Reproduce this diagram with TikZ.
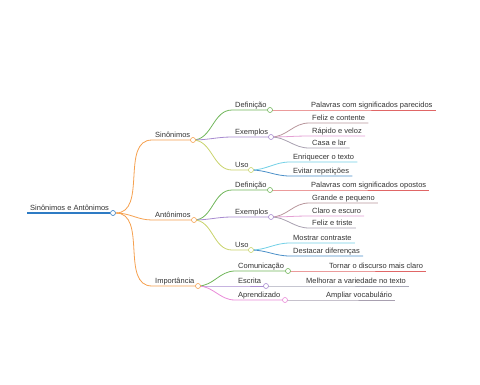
\documentclass[tikz,border=0pt]{standalone}
\usepackage{xcolor}
\usepackage{fontspec}
\setmainfont{Liberation Sans}
\usetikzlibrary{positioning}

\definecolor{txt}{HTML}{333333}
\definecolor{rootblue}{HTML}{2E7BC4}
\definecolor{orng}{HTML}{F5A04E}
\definecolor{grn}{HTML}{70B65A}
\definecolor{purp}{HTML}{A88BD0}
\definecolor{ylw}{HTML}{C9D36B}
\definecolor{redl}{HTML}{E06666}
\definecolor{mauve}{HTML}{B8969C}
\definecolor{pinkl}{HTML}{E4A0D4}
\definecolor{grayp}{HTML}{A8A0B0}
\definecolor{cyanl}{HTML}{72D0E6}
\definecolor{bluel}{HTML}{4A8FC8}
\definecolor{pinkd}{HTML}{E98AD8}
\definecolor{grayl}{HTML}{A8A8B8}

\begin{document}
\begin{tikzpicture}[x=1pt, y=-1pt,
  lbl/.style={font=\fontsize{7.5}{9}\selectfont, text=txt, inner xsep=3pt, inner ysep=0.5pt,
    text height=5.5pt, text depth=1.8pt, anchor=south west},
  dot/.style={circle, draw=#1, fill=white, line width=0.6pt, minimum size=5pt, inner sep=0pt},
  branch/.style={draw=#1, line width=0.8pt}]
\useasboundingbox (0,0) rectangle (480,384);

% Root
\node[lbl] (root) at (27,213) {Sinônimos e Antônimos};
\node[dot=rootblue] (rootc) at (113,213) {};

% Level 1
\node[lbl] (sin) at (152,140) {Sinônimos};
\node[lbl] (ant) at (152,220) {Antônimos};
\node[lbl] (imp) at (152,286) {Importância};

% Sinônimos children
\node[lbl] (sdef) at (232,110) {Definição};
\node[lbl] (sex) at (232,137) {Exemplos};
\node[lbl] (suso) at (232,170) {Uso};

% Antônimos children
\node[lbl] (adef) at (232,190) {Definição};
\node[lbl] (aex) at (232,217) {Exemplos};
\node[lbl] (auso) at (232,250) {Uso};

% Importância children
\node[lbl] (icom) at (235,271) {Comunicação};
\node[lbl] (iesc) at (235,286) {Escrita};
\node[lbl] (iapr) at (235,300) {Aprendizado};

% Leaves
\node[lbl] (sdef1) at (308,110) {Palavras com significados parecidos};
\node[lbl] (sex1) at (309,123) {Feliz e contente};
\node[lbl] (sex2) at (309,136) {Rápido e veloz};
\node[lbl] (sex3) at (309,148) {Casa e lar};
\node[lbl] (suso1) at (290,162) {Enriquecer o texto};
\node[lbl] (suso2) at (290,176) {Evitar repetições};
\node[lbl] (adef1) at (308,190) {Palavras com significados opostos};
\node[lbl] (aex1) at (309,203) {Grande e pequeno};
\node[lbl] (aex2) at (309,216) {Claro e escuro};
\node[lbl] (aex3) at (309,228) {Feliz e triste};
\node[lbl] (auso1) at (290,243) {Mostrar contraste};
\node[lbl] (auso2) at (290,256) {Destacar diferenças};
\node[lbl] (icom1) at (326,271) {Tornar o discurso mais claro};
\node[lbl] (iesc1) at (303,286) {Melhorar a variedade no texto};
\node[lbl] (iapr1) at (323,300) {Ampliar vocabulário};

% Root line
\draw[rootblue, line width=1.1pt] (root.south west) -- (rootc.west);

% Level 1 branches
\coordinate (sinc) at (193,140);
\coordinate (antc) at (194,220);
\coordinate (impc) at (198,286);
\draw[branch=orng] (rootc.east) to[out=0,in=180] (sin.south west) -- (sinc);
\draw[branch=orng] (rootc.east) to[out=0,in=180] (ant.south west) -- (antc);
\draw[branch=orng] (rootc.east) to[out=0,in=180] (imp.south west) -- (impc);

% Level 2 branches
\coordinate (sdefc) at (270,110);
\coordinate (sexc) at (271,137);
\coordinate (susoc) at (251,170);
\coordinate (adefc) at (270,190);
\coordinate (aexc) at (271,217);
\coordinate (ausoc) at (251,250);
\coordinate (icomc) at (288,271);
\coordinate (iescc) at (266,286);
\coordinate (iaprc) at (285,300);
\draw[branch=grn] (sinc) to[out=0,in=180] (sdef.south west) -- (sdefc);
\draw[branch=purp] (sinc) to[out=0,in=180] (sex.south west) -- (sexc);
\draw[branch=ylw] (sinc) to[out=0,in=180] (suso.south west) -- (susoc);
\draw[branch=grn] (antc) to[out=0,in=180] (adef.south west) -- (adefc);
\draw[branch=purp] (antc) to[out=0,in=180] (aex.south west) -- (aexc);
\draw[branch=ylw] (antc) to[out=0,in=180] (auso.south west) -- (ausoc);
\draw[branch=grn] (impc) to[out=0,in=180] (icom.south west) -- (icomc);
\draw[branch=purp] (impc) to[out=0,in=180] (iesc.south west) -- (iescc);
\draw[branch=pinkd] (impc) to[out=0,in=180] (iapr.south west) -- (iaprc);

% Leaf branches
\draw[branch=redl] (sdefc) to[out=0,in=180] (sdef1.south west) -- (sdef1.south east);
\draw[branch=mauve] (sexc) to[out=0,in=180] (sex1.south west) -- (sex1.south east);
\draw[branch=pinkl] (sexc) to[out=0,in=180] (sex2.south west) -- (sex2.south east);
\draw[branch=grayp] (sexc) to[out=0,in=180] (sex3.south west) -- (sex3.south east);
\draw[branch=cyanl] (susoc) to[out=0,in=180] (suso1.south west) -- (suso1.south east);
\draw[branch=bluel] (susoc) to[out=0,in=180] (suso2.south west) -- (suso2.south east);
\draw[branch=redl] (adefc) to[out=0,in=180] (adef1.south west) -- (adef1.south east);
\draw[branch=mauve] (aexc) to[out=0,in=180] (aex1.south west) -- (aex1.south east);
\draw[branch=pinkl] (aexc) to[out=0,in=180] (aex2.south west) -- (aex2.south east);
\draw[branch=grayp] (aexc) to[out=0,in=180] (aex3.south west) -- (aex3.south east);
\draw[branch=cyanl] (ausoc) to[out=0,in=180] (auso1.south west) -- (auso1.south east);
\draw[branch=bluel] (ausoc) to[out=0,in=180] (auso2.south west) -- (auso2.south east);
\draw[branch=redl] (icomc) to[out=0,in=180] (icom1.south west) -- (icom1.south east);
\draw[branch=grayl] (iescc) to[out=0,in=180] (iesc1.south west) -- (iesc1.south east);
\draw[branch=grayp] (iaprc) to[out=0,in=180] (iapr1.south west) -- (iapr1.south east);

% Dots
\node[dot=orng] at (sinc) {};
\node[dot=orng] at (antc) {};
\node[dot=orng] at (impc) {};
\node[dot=grn] at (sdefc) {};
\node[dot=purp] at (sexc) {};
\node[dot=ylw] at (susoc) {};
\node[dot=grn] at (adefc) {};
\node[dot=purp] at (aexc) {};
\node[dot=ylw] at (ausoc) {};
\node[dot=grn] at (icomc) {};
\node[dot=purp] at (iescc) {};
\node[dot=pinkd] at (iaprc) {};

\end{tikzpicture}
\end{document}
